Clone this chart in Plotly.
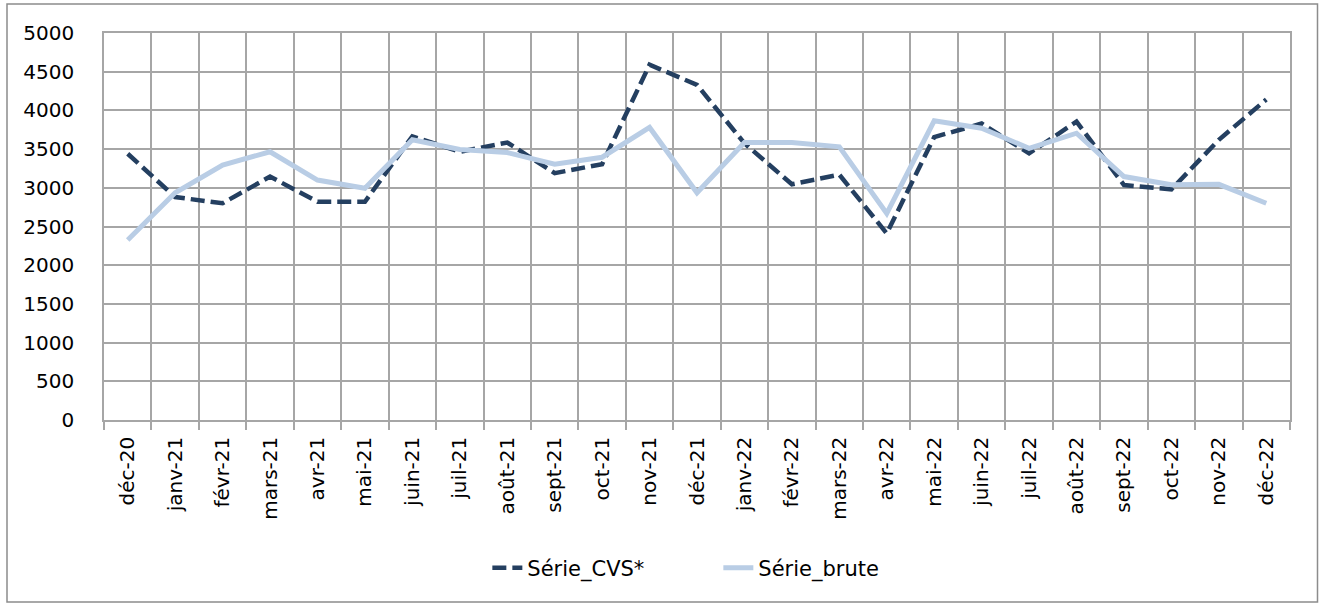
import plotly.graph_objects as go

months = ["déc-20", "janv-21", "févr-21", "mars-21", "avr-21", "mai-21", "juin-21",
          "juil-21", "août-21", "sept-21", "oct-21", "nov-21", "déc-21", "janv-22",
          "févr-22", "mars-22", "avr-22", "mai-22", "juin-22", "juil-22", "août-22",
          "sept-22", "oct-22", "nov-22", "déc-22"]

serie_cvs = [3440, 2880, 2800, 3145, 2820, 2820, 3665, 3465, 3585, 3190, 3305, 4590,
             4330, 3575, 3045, 3170, 2410, 3655, 3830, 3445, 3855, 3035, 2980, 3620, 4140]

serie_brute = [2325, 2935, 3295, 3465, 3100, 2995, 3620, 3495, 3455, 3305, 3395, 3780,
               2935, 3585, 3585, 3530, 2670, 3865, 3770, 3510, 3705, 3145, 3040, 3045, 2800]

FONT = "DejaVu Sans"
GRID = "#A6A6A6"

fig = go.Figure()
fig.add_trace(go.Scatter(
    x=months, y=serie_cvs, name="Série_CVS*", mode="lines",
    line=dict(color="#243F60", width=4.5, dash="14px,6px"),
))
fig.add_trace(go.Scatter(
    x=months, y=serie_brute, name="Série_brute", mode="lines",
    line=dict(color="#B9CDE5", width=5),
))

W, H = 1319, 603
ml, mr, mt, mb = 104, 29, 33, 183
pw, ph = W - ml - mr, H - mt - mb

fig.add_shape(type="rect", xref="paper", yref="paper",
              x0=(7 - ml) / pw, x1=(1317.5 - ml) / pw,
              y0=(H - mb - 602) / ph, y1=1 + (mt - 4) / ph,
              line=dict(color="#8C8C8C", width=1.5), fillcolor="rgba(0,0,0,0)",
              layer="below")

fig.update_layout(
    width=W, height=H,
    margin=dict(l=ml, r=mr, t=mt, b=mb),
    paper_bgcolor="white", plot_bgcolor="white",
    font=dict(family=FONT, size=20, color="black"),
    showlegend=True,
    legend=dict(orientation="h", x=0.518, xanchor="center", y=-0.383, yanchor="middle",
                font=dict(family=FONT, size=21), entrywidth=186, tracegroupgap=0),
)
fig.update_xaxes(
    type="category", tickson="boundaries", showgrid=True, gridcolor=GRID, gridwidth=1.5,
    ticks="outside", ticklen=8, tickcolor=GRID, tickwidth=1.5,
    showline=True, linecolor=GRID, linewidth=1.5, mirror=True,
    tickangle=-90, tickfont=dict(family=FONT, size=20), range=[-0.5, 24.5],
    ticklabelstandoff=7,
)
fig.update_yaxes(
    range=[0, 5000], dtick=500, tick0=0, showgrid=True, gridcolor=GRID, gridwidth=1.5,
    showline=True, linecolor=GRID, linewidth=1.5, mirror=True, ticks="",
    ticklabelstandoff=24, tickfont=dict(family=FONT, size=20), zeroline=False,
)

fig.write_html("out.html", config={"displayModeBar": False},
               post_script="document.body.style.margin='0px';document.body.style.overflow='hidden';")
